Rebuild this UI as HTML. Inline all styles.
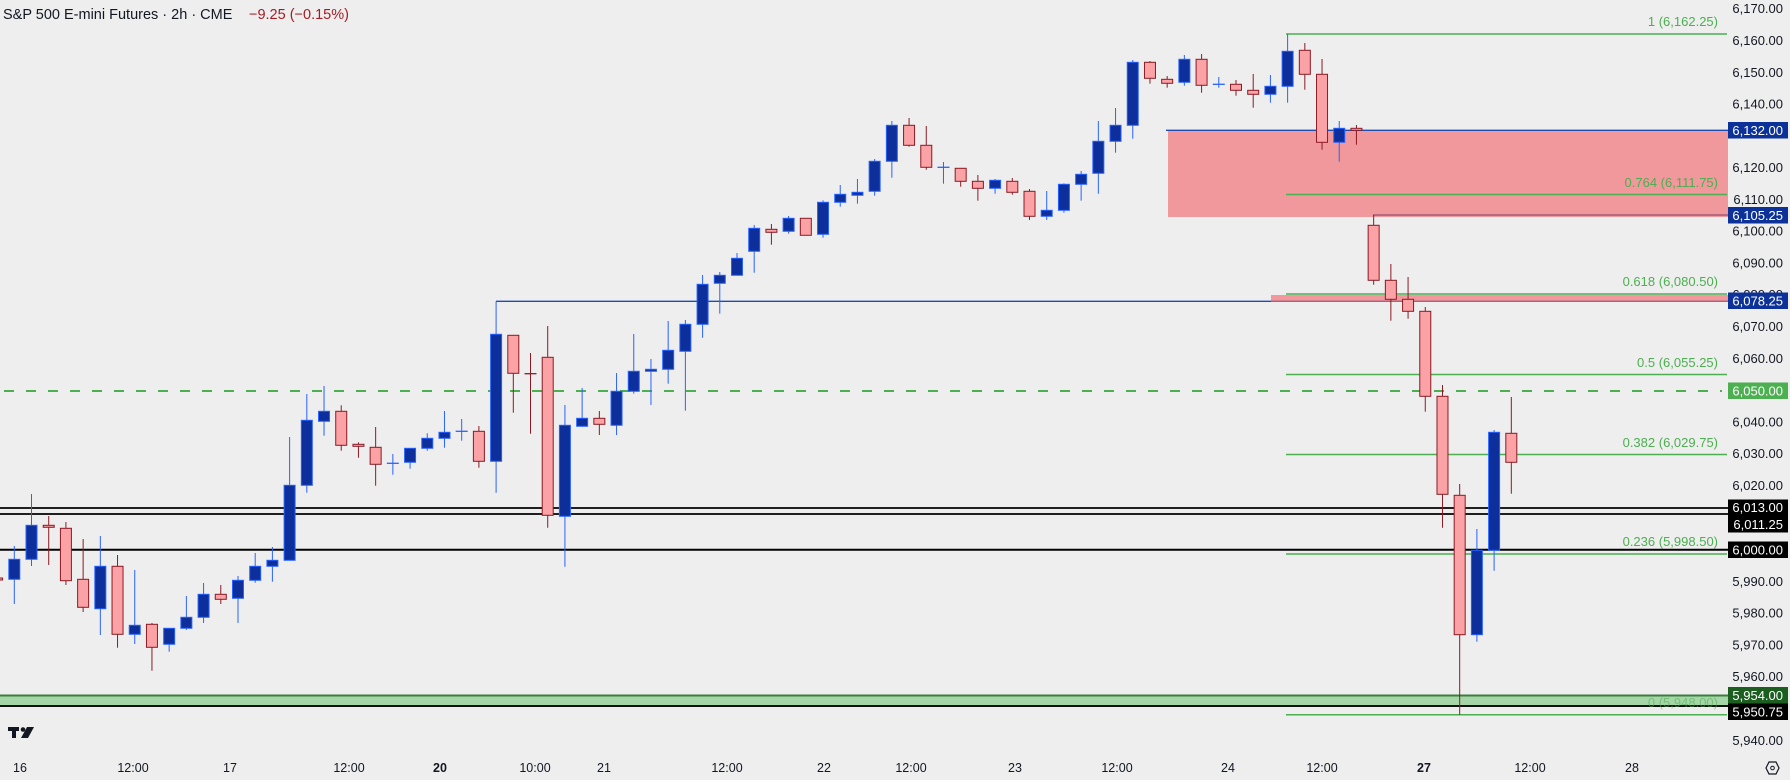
<!DOCTYPE html>
<html><head><meta charset="utf-8"><style>
html,body{margin:0;padding:0;background:#eeeeee;}
svg{display:block;font-family:"Liberation Sans",sans-serif;}
</style></head><body>
<svg id="c" width="1790" height="780" viewBox="0 0 1790 780" xmlns="http://www.w3.org/2000/svg">
<rect x="0" y="0" width="1790" height="780" fill="#eeeeee"/>
<rect x="0" y="695.5" width="1728" height="10.5" fill="#a5d6a7"/>
<line x1="0" y1="695.5" x2="1728" y2="695.5" stroke="#3b7d3e" stroke-width="2"/>
<line x1="0" y1="706" x2="1728" y2="706" stroke="#111" stroke-width="2"/>
<rect x="1168" y="130" width="560" height="87" fill="#f0989c"/>
<line x1="1166" y1="130.3" x2="1728" y2="130.3" stroke="#1e4bb0" stroke-width="1.3"/>
<line x1="1373" y1="215" x2="1728" y2="215" stroke="#7b3a6a" stroke-width="1"/>
<rect x="1271" y="295" width="457" height="6.5" fill="#f0989c"/>
<line x1="496" y1="301.3" x2="1271" y2="301.3" stroke="#1e4bb0" stroke-width="1.3"/>
<line x1="1271" y1="301.3" x2="1728" y2="301.3" stroke="#7b3a6a" stroke-width="1"/>
<line x1="0" y1="508" x2="1728" y2="508" stroke="#1f1f1f" stroke-width="2"/>
<line x1="0" y1="514" x2="1728" y2="514" stroke="#1f1f1f" stroke-width="2"/>
<line x1="0" y1="549.7" x2="1728" y2="549.7" stroke="#000" stroke-width="2"/>
<line x1="0" y1="391" x2="1722" y2="391" stroke="#4caf50" stroke-width="2" stroke-dasharray="10,12" stroke-dashoffset="-4"/>
<g stroke="#4caf50" stroke-width="1.5">
<line x1="1286" y1="34" x2="1727" y2="34"/>
<line x1="1286" y1="194.5" x2="1727" y2="194.5"/>
<line x1="1286" y1="294" x2="1727" y2="294"/>
<line x1="1286" y1="374.5" x2="1727" y2="374.5"/>
<line x1="1286" y1="454.5" x2="1727" y2="454.5"/>
<line x1="1286" y1="554" x2="1727" y2="554"/>
<line x1="1286" y1="714.7" x2="1727" y2="714.7"/>
</g>
<g fill="#4caf50" font-size="13" text-anchor="end">
<text x="1718" y="26">1 (6,162.25)</text>
<text x="1718" y="187">0.764 (6,111.75)</text>
<text x="1718" y="286">0.618 (6,080.50)</text>
<text x="1718" y="367">0.5 (6,055.25)</text>
<text x="1718" y="447">0.382 (6,029.75)</text>
<text x="1718" y="546">0.236 (5,998.50)</text>
<text x="1718" y="707" fill-opacity="0.55">0 (5,948.00)</text>
</g>
<g id="candles"></g>
<g fill="#131722" font-size="13" text-anchor="end">
<text x="1783" y="13">6,170.00</text>
<text x="1783" y="45">6,160.00</text>
<text x="1783" y="77">6,150.00</text>
<text x="1783" y="108.5">6,140.00</text>
<text x="1783" y="172">6,120.00</text>
<text x="1783" y="204">6,110.00</text>
<text x="1783" y="235.5">6,100.00</text>
<text x="1783" y="267.5">6,090.00</text>
<text x="1783" y="299">6,080.00</text>
<text x="1783" y="331">6,070.00</text>
<text x="1783" y="363">6,060.00</text>
<text x="1783" y="426.5">6,040.00</text>
<text x="1783" y="458">6,030.00</text>
<text x="1783" y="490">6,020.00</text>
<text x="1783" y="586">5,990.00</text>
<text x="1783" y="617.5">5,980.00</text>
<text x="1783" y="649.5">5,970.00</text>
<text x="1783" y="681">5,960.00</text>
<text x="1783" y="745">5,940.00</text>
</g>
<g font-size="13" text-anchor="end" fill="#fff">
<rect x="1728" y="122" width="60" height="16.5" fill="#0c3299"/><text x="1783" y="135">6,132.00</text>
<rect x="1728" y="207" width="60" height="16.5" fill="#0c3299"/><text x="1783" y="220">6,105.25</text>
<rect x="1728" y="292.5" width="60" height="16.5" fill="#0c3299"/><text x="1783" y="305.5">6,078.25</text>
<rect x="1728" y="382.5" width="60" height="16.5" fill="#4caf50"/><text x="1783" y="395.5">6,050.00</text>
<rect x="1728" y="499.5" width="60" height="33" fill="#000"/><text x="1783" y="512">6,013.00</text><text x="1783" y="529">6,011.25</text>
<rect x="1728" y="541.5" width="60" height="16.5" fill="#000"/><text x="1783" y="554.5">6,000.00</text>
<rect x="1728" y="687" width="60" height="16.5" fill="#1b5e20"/><text x="1783" y="700">5,954.00</text>
<rect x="1728" y="703.5" width="60" height="16.5" fill="#000"/><text x="1783" y="716.5">5,950.75</text>
</g>
<g fill="#131722" font-size="12.5" text-anchor="middle">
<text x="20" y="772">16</text>
<text x="133" y="772">12:00</text>
<text x="230" y="772">17</text>
<text x="349" y="772">12:00</text>
<text x="440" y="772" font-weight="bold">20</text>
<text x="535" y="772">10:00</text>
<text x="604" y="772">21</text>
<text x="727" y="772">12:00</text>
<text x="824" y="772">22</text>
<text x="911" y="772">12:00</text>
<text x="1015" y="772">23</text>
<text x="1117" y="772">12:00</text>
<text x="1228" y="772">24</text>
<text x="1322" y="772">12:00</text>
<text x="1424" y="772" font-weight="bold">27</text>
<text x="1530" y="772">12:00</text>
<text x="1632" y="772">28</text>
</g>
<polygon points="1766,768 1769,762 1776,762 1779,768 1776,774 1769,774" fill="none" stroke="#131722" stroke-width="1.2"/>
<circle cx="1772.5" cy="768" r="1.8" fill="none" stroke="#131722" stroke-width="1"/>
<g fill="#131722">
<rect x="8" y="727" width="11" height="4"/><rect x="12" y="727" width="4" height="11"/>
<circle cx="23" cy="729.5" r="2.3"/>
<polygon points="27,727 34,727 28,738 21,738"/>
</g>
<text x="3" y="19" font-size="14.5" fill="#131722">S&amp;P 500 E-mini Futures · 2h · CME</text>
<text x="249" y="19" font-size="14.5" fill="#a31d24">−9.25 (−0.15%)</text>
</svg>
<script>
var d=[
[578,580,577,583,'r'],[559.3,579.3,546,604,'b'],[525.3,559.3,494,566,'b'],[525.3,527.3,516,565,'r'],[528.3,580.7,522,585,'r'],
[579.3,607.3,539,612,'r'],[566.3,608.7,536,635,'b'],[566.3,634.3,555,647.7,'r'],[625.3,634.3,570,644,'b'],[624.3,647.3,623,670.7,'r'],
[628.3,644.3,628.3,651.7,'b'],[617.3,628.3,596,630,'b'],[594.3,617.3,583,623,'b'],[594.3,599.3,585,604,'r'],[580.3,598.3,576,623,'b'],
[566.3,580.3,553,582.7,'b'],[560.3,566.3,547,581.7,'b'],[485.3,560.3,437,560.3,'b'],[420.3,485.3,394,492.7,'b'],[411.3,421.3,386,435.7,'b'],
[411.3,445.3,405.3,450.7,'r'],[444.3,446.3,442.3,457.7,'r'],[447.3,464.3,427,485.7,'r'],[463.3,463.3,454,474.7,'b'],[448.3,462.3,448,468.7,'b'],
[438.3,448.3,433.3,450.7,'b'],[432.3,438.3,411,447.7,'b'],[431.3,431.3,419,440.7,'b'],[431.3,461.3,426,467.7,'r'],[334.3,461.3,301.3,492.7,'b'],
[335.3,373.3,335.3,412.7,'r'],[373.7,373.7,353,433.7,'r'],[357.3,515.3,326,527.7,'r'],[425.3,516.3,405,566.7,'b'],[418.3,426.3,388,426.7,'b'],
[418.3,424.3,411,435,'r'],[391.3,425.3,373,435,'b'],[371.3,391.3,334,393.7,'b'],[369.3,371.3,359,405,'b'],[350.3,369.3,321,383.7,'b'],
[324.3,351.3,320,410.7,'b'],[284.3,324.3,275,337.7,'b'],[275.3,283.3,272,313.7,'b'],[258.3,275.3,253,275.3,'b'],[228.3,251.3,225,272.7,'b'],
[229.3,232.3,224,244.7,'r'],[218.3,231.3,216,233.7,'b'],[218.3,235.3,218.3,235.3,'r'],[202.3,234.3,200.3,237.7,'b'],[194.3,202.3,185,206.7,'b'],
[192.3,195.3,179,203.7,'b'],[161.3,191.3,159,195.7,'b'],[125.3,161.3,121,177.7,'b'],[125.3,145.3,118,146.7,'r'],[145.3,167.3,126,169.7,'r'],
[167.3,167.3,162,183.7,'b'],[168.3,181.3,168.3,186.7,'r'],[181.3,188.3,175,200.7,'r'],[180.3,188.3,179,193.7,'b'],[181.3,192.3,178,194.7,'r'],
[191.3,216.3,189,220,'r'],[210.3,216.3,191,220,'b'],[184.3,210.3,183.3,212.7,'b'],[174.3,184.3,171,200.7,'b'],[141.3,173.3,121,193.7,'b'],
[125.3,141.3,108,152.7,'b'],[62.3,125.3,60,138.7,'b'],[62.3,78.3,61,83.7,'r'],[79.3,83.3,76,87.7,'r'],[59.3,82.3,55,85.7,'b'],
[59.3,85.3,54,92.7,'r'],[84.3,84.3,77,87.7,'b'],[84.3,90.3,80,95.7,'r'],[90.3,94.3,74,107.7,'r'],[86.3,94.3,75,102.7,'b'],
[51.3,86.3,34,102.7,'b'],[50.3,74.3,43,89.7,'r'],[74.3,142.3,59,149.7,'r'],[128.3,142.3,121,161.7,'b'],[128.3,130.3,125,144.7,'r'],
[225.3,280.3,215,284.7,'r'],[280.3,299.3,264,320.7,'r'],[299.3,311.3,277,318.7,'r'],[311.3,396.3,307,411.7,'r'],[396.3,494.3,385,527.7,'r'],
[495.3,634.7,484,714.7,'r'],[550.3,634.7,529,641.7,'b'],[432.3,550.3,430,570.7,'b'],[433.3,462.3,397,493.7,'r']];
var g=document.getElementById('candles'),h='';
for(var k=0;k<d.length;k++){
 var c=d[k],cx=14.3+17.207*(k-1),b=c[4]=='b';
 var wc=b?'#2962ff':'#8b1a24',fc=b?'#0c2f9b':'#faa2a5';
 h+='<line x1="'+cx+'" y1="'+c[2]+'" x2="'+cx+'" y2="'+c[3]+'" stroke="'+wc+'" stroke-width="1"/>';
 if(c[1]-c[0]<1.5){h+='<line x1="'+(cx-6)+'" y1="'+c[0]+'" x2="'+(cx+6)+'" y2="'+c[0]+'" stroke="'+wc+'" stroke-width="1.3"/>';}
 else h+='<rect x="'+(cx-5.5)+'" y="'+c[0]+'" width="11" height="'+(c[1]-c[0])+'" fill="'+fc+'" stroke="'+wc+'" stroke-width="1"/>';
}
g.innerHTML=h;
</script>
</body></html>
